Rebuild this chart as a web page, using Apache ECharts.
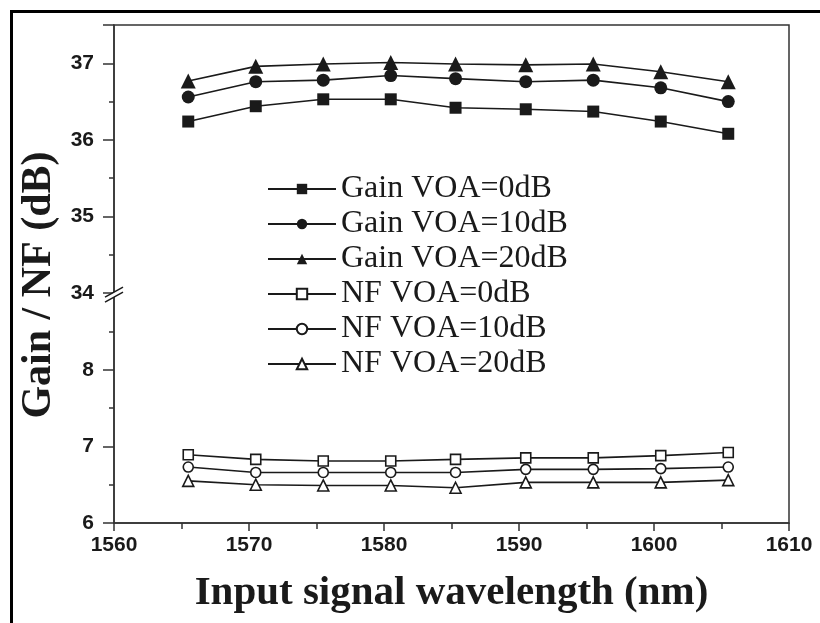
<!DOCTYPE html>
<html>
<head>
<meta charset="utf-8">
<script src="https://cdn.jsdelivr.net/npm/echarts@6/dist/echarts.min.js"></script>
<style>
  html, body { margin: 0; padding: 0; background: #fff; }
  #wrap { position: relative; width: 820px; height: 623px; overflow: hidden; }
  #chart { width: 820px; height: 623px; }
  #frame { position: absolute; left: 10px; top: 10px; width: 900px; height: 700px;
           border-top: 3px solid #000; border-left: 3px solid #000; pointer-events: none; }
</style>
</head>
<body>
<div id="wrap"><div id="chart"></div><div id="frame"></div></div>
<script>
// wavelength of each measured point (nm)
const wavelength = [1565.5, 1570.5, 1575.5, 1580.5, 1585.3, 1590.5, 1595.5, 1600.5, 1605.5];

// gain (dB), upper part of the broken axis
const gain0  = [36.24, 36.44, 36.53, 36.53, 36.42, 36.40, 36.37, 36.24, 36.08];
const gain10 = [36.56, 36.76, 36.78, 36.84, 36.80, 36.76, 36.78, 36.68, 36.50];
const gain20 = [36.77, 36.96, 36.99, 37.01, 36.99, 36.98, 36.99, 36.89, 36.76];

// noise figure (dB), lower part
const nf0  = [6.89, 6.83, 6.81, 6.81, 6.83, 6.85, 6.85, 6.88, 6.92];
const nf10 = [6.73, 6.66, 6.66, 6.66, 6.66, 6.70, 6.70, 6.71, 6.73];
const nf20 = [6.55, 6.50, 6.49, 6.49, 6.46, 6.53, 6.53, 6.53, 6.56];

const seriesNames = ["Gain VOA=0dB", "Gain VOA=10dB", "Gain VOA=20dB",
                     "NF VOA=0dB", "NF VOA=10dB", "NF VOA=20dB"];

// axis break: 9 .. 34 collapsed to one point
const BREAK_LO = 9, BREAK_HI = 34, SHIFT = BREAK_HI - BREAK_LO;
const toAxis = (v) => (v >= BREAK_HI ? v - SHIFT : v);
const fromAxis = (v) => (v >= BREAK_LO ? v + SHIFT : v);

const INK = "#1a1a1a";
const SERIF = "'Liberation Serif', 'Times New Roman', serif";
const SANS = "'Liberation Sans', Arial, sans-serif";

function line(name, ys, symbol, size, filled) {
  return {
    name, type: "line", data: wavelength.map((x, i) => [x, toAxis(ys[i])]),
    symbol, symbolSize: size, showSymbol: true,
    lineStyle: { color: INK, width: 1.6 },
    itemStyle: { color: filled ? INK : "#fff", borderColor: INK, borderWidth: filled ? 0 : 1.6 },
    emphasis: { disabled: true },
  };
}

const chart = echarts.init(document.getElementById("chart"));
chart.setOption({
  animation: false,
  grid: { left: 114, top: 25, right: 31, bottom: 100, show: true, borderColor: "#333", borderWidth: 1.5 },
  legend: {
    data: seriesNames, orient: "vertical", left: 262, top: 168,
    itemWidth: 68, itemHeight: 13, itemGap: 3,
    textStyle: { fontFamily: SERIF, fontSize: 32, color: INK },
  },
  xAxis: {
    type: "value", min: 1560, max: 1610, interval: 10,
    name: "Input signal wavelength (nm)", nameLocation: "middle", nameGap: 50,
    nameTextStyle: { fontFamily: SERIF, fontWeight: "bold", fontSize: 41, color: INK },
    axisLine: { lineStyle: { color: "#333", width: 1.5 } },
    axisTick: { length: 8, lineStyle: { color: "#333", width: 1.5 } },
    minorTick: { show: true, splitNumber: 2, length: 6, lineStyle: { color: "#333", width: 1.5 } },
    axisLabel: { fontFamily: SANS, fontWeight: "bold", fontSize: 21, color: INK, margin: 12,
                 formatter: (v) => String(v) },
    splitLine: { show: false },
  },
  yAxis: {
    type: "value", min: 6, max: 12.5, interval: 1,
    name: "Gain / NF (dB)", nameLocation: "middle", nameGap: 46,
    nameTextStyle: { fontFamily: SERIF, fontWeight: "bold", fontSize: 42, color: INK, padding: [0, 22, 0, 0] },
    axisLine: { lineStyle: { color: "#333", width: 1.5 } },
    axisTick: { length: 11, lineStyle: { color: "#333", width: 1.5 } },
    minorTick: { show: true, splitNumber: 2, length: 5, lineStyle: { color: "#333", width: 1.5 } },
    axisLabel: {
      fontFamily: SANS, fontWeight: "bold", fontSize: 21, color: INK, margin: 20,
      formatter: (v) => (Number.isInteger(v) ? String(fromAxis(v)) : ""),
    },
    splitLine: { show: false },
  },
  series: [
    line(seriesNames[0], gain0, "rect", 12, true),
    line(seriesNames[1], gain10, "circle", 13, true),
    line(seriesNames[2], gain20, "triangle", 15, true),
    line(seriesNames[3], nf0, "rect", 10, false),
    line(seriesNames[4], nf10, "circle", 10, false),
    line(seriesNames[5], nf20, "triangle", 11, false),
  ],
});

// break marker on the y axis, placed at the collapsed value
const [ax, ay] = chart.convertToPixel({ gridIndex: 0 }, [1560, BREAK_LO]);
chart.setOption({
  graphic: [
    { type: "polygon", z: 100, shape: { points: [[ax - 8, ay + 4], [ax + 8, ay - 6], [ax + 8, ay - 1], [ax - 8, ay + 9]] },
      style: { fill: "#fff" } },
    { type: "line", z: 101, shape: { x1: ax - 9, y1: ay + 4, x2: ax + 9, y2: ay - 6 }, style: { stroke: INK, lineWidth: 1.5 } },
    { type: "line", z: 101, shape: { x1: ax - 9, y1: ay + 9, x2: ax + 9, y2: ay - 1 }, style: { stroke: INK, lineWidth: 1.5 } },
  ],
});
</script>
</body>
</html>
